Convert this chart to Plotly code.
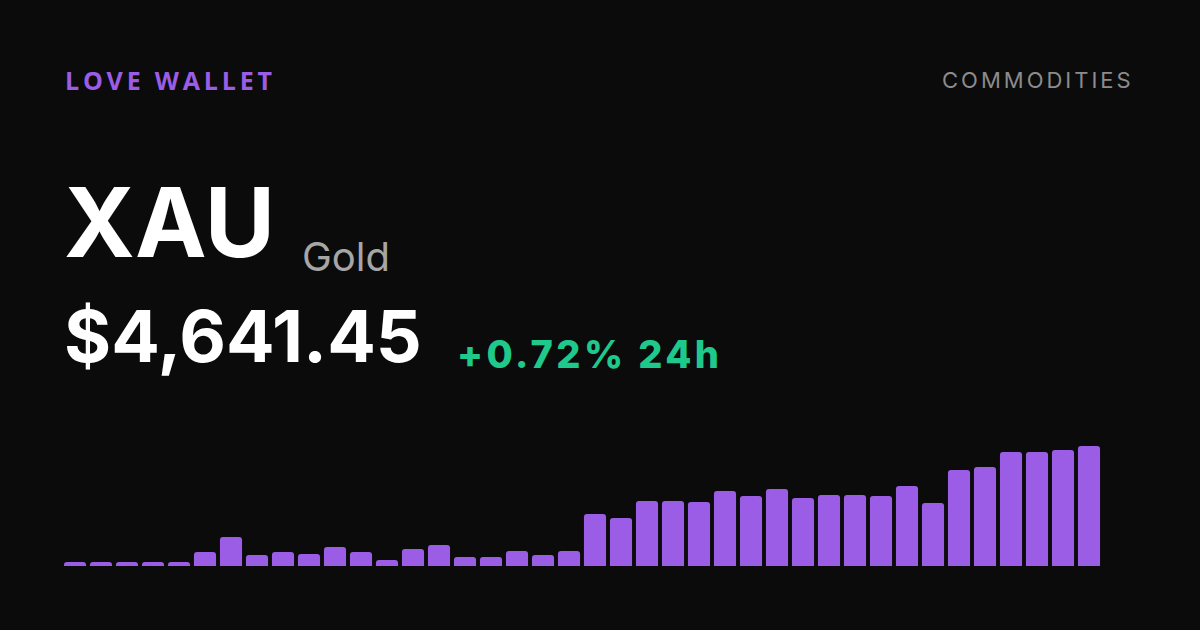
import plotly.graph_objects as go

# ---- data ----
bar_index = list(range(40))
bar_values = [4, 4, 4, 4, 4, 14, 29, 11, 14, 12,
              19, 14, 6, 17, 21, 9, 9, 15, 11, 15,
              52, 48, 65, 65, 64, 75, 70, 77, 68, 71,
              71, 70, 80, 63, 96, 99, 114, 114, 116, 120]
brand_label = "LOVE WALLET"
category_label = "COMMODITIES"
ticker = "XAU"
asset_name = "Gold"
price_text = "$4,641.45"
change_text = "+0.72% 24h"

W, H = 1200, 630
BG = "#0b0b0b"
PURPLE = "#9b5de5"
GREEN = "#1fc98b"

fig = go.Figure()
fig.add_trace(go.Bar(
    x=bar_index, y=bar_values,
    marker=dict(color=PURPLE, cornerradius=3, line=dict(width=0)),
    hoverinfo="skip",
))

def px_x(x):
    return x / W

def px_y(y):
    return 1 - y / H

annotations = [
    dict(text=brand_label, x=px_x(63), y=px_y(80), font=dict(family="Open Sans", size=25, color=PURPLE, weight=700)),
    dict(text=category_label, x=px_x(940), y=px_y(80), font=dict(family="Inter", size=22, color="#8c8c8c")),
    dict(text=ticker, x=px_x(62), y=px_y(222), font=dict(family="Inter", size=96, color="#ffffff", weight=700)),
    dict(text=asset_name, x=px_x(300), y=px_y(256), font=dict(family="Inter", size=40, color="#a6a6a6")),
    dict(text=price_text, x=px_x(62), y=px_y(335), font=dict(family="Inter", size=72, color="#ffffff", weight=700)),
    dict(text=change_text, x=px_x(455), y=px_y(354), font=dict(family="Inter", size=38, color=GREEN, weight=800)),
]
for a in annotations:
    a.update(xref="paper", yref="paper", xanchor="left", yanchor="middle", align="left", showarrow=False)

fig.update_layout(
    width=W, height=H,
    margin=dict(l=0, r=0, t=0, b=0),
    paper_bgcolor=BG, plot_bgcolor=BG,
    showlegend=False,
    bargap=0.15,
    xaxis=dict(domain=[62 / W, 1102 / W], range=[-0.5, 39.5], visible=False, fixedrange=True),
    yaxis=dict(domain=[(H - 566) / H, (H - 436) / H], range=[0, 130], visible=False, fixedrange=True),
    annotations=annotations,
)

post = """
document.body.style.margin = '0';
document.body.style.padding = '0';
document.body.style.background = '#0b0b0b';
document.body.style.overflow = 'hidden';
var gd = document.getElementById('{plot_id}');
var spacing = {'LOVE WALLET': '3.8px', 'COMMODITIES': '3px', '+0.72% 24h': '3.4px'};
gd.querySelectorAll('text.annotation-text').forEach(function(t){
  var s = spacing[t.textContent];
  if (s) { t.style.letterSpacing = s; }
});
"""

fig.write_html("out.html", config={"displayModeBar": False, "staticPlot": True}, post_script=post)
